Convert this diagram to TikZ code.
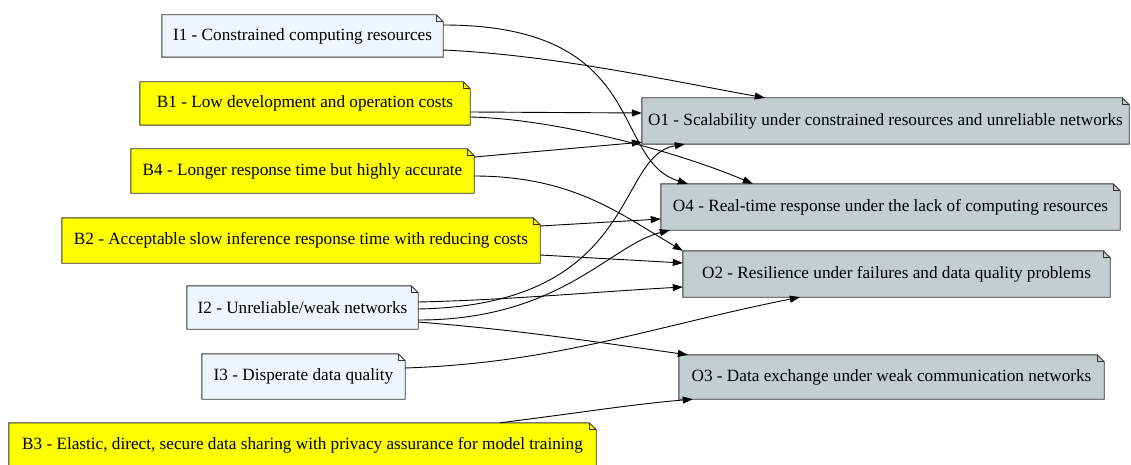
\documentclass[tikz,border=0pt]{standalone}
\usepackage{fontspec}
\setmainfont{Liberation Serif}
\usetikzlibrary{arrows.meta,calc}
\pgfdeclarelayer{background}
\pgfsetlayers{background,main}

\definecolor{inputfill}{RGB}{238,245,252}
\definecolor{benefitfill}{RGB}{255,255,0}
\definecolor{outcomefill}{RGB}{196,206,206}
\definecolor{framegray}{RGB}{50,50,50}

\tikzset{
  notebox/.style={draw=none, inner sep=0pt, align=center,
    font=\fontsize{17.2}{20}\selectfont},
  frame/.style={draw=framegray, line width=0.9pt, line join=miter},
  link/.style={draw=black, line width=0.9pt,
    -{Triangle[length=10pt,width=7pt]}}
}

% outline of a note with a folded top-right corner, drawn behind the text
\newcommand{\foldframe}[2]{%
  \begin{pgfonlayer}{background}
    \draw[frame, fill=#2] (#1.north west) -- ($(#1.north east)+(-7,0)$)
      -- ($(#1.north east)+(0,7)$) -- (#1.south east) -- (#1.south west) -- cycle;
    \draw[frame] ($(#1.north east)+(-7,0)$) -- ($(#1.north east)+(-7,7)$)
      -- ($(#1.north east)+(0,7)$);
  \end{pgfonlayer}}

\begin{document}
\begin{tikzpicture}[x=1pt,y=-1pt]
\useasboundingbox (0,0) rectangle (1131,465);

% issues and benefits (left column)
\node[notebox, minimum width=281pt, minimum height=42pt] (I1) at (302.5,36) {I1 - Constrained computing resources};
\foldframe{I1}{inputfill}
\node[notebox, minimum width=330pt, minimum height=43pt] (B1) at (305,103.5) {B1 - Low development and operation costs};
\foldframe{B1}{benefitfill}
\node[notebox, minimum width=343pt, minimum height=44pt] (B4) at (302.5,171) {B4 - Longer response time but highly accurate};
\foldframe{B4}{benefitfill}
\node[notebox, minimum width=478pt, minimum height=45pt] (B2) at (301,240.5) {B2 - Acceptable slow inference response time with reducing costs};
\foldframe{B2}{benefitfill}
\node[notebox, minimum width=231pt, minimum height=43pt] (I2) at (302.5,307.5) {I2 - Unreliable/weak networks};
\foldframe{I2}{inputfill}
\node[notebox, minimum width=203pt, minimum height=45pt] (I3) at (303.5,376.5) {I3 - Disperate data quality};
\foldframe{I3}{inputfill}
\node[notebox, minimum width=587pt, minimum height=44pt] (B3) at (302.5,445) {B3 - Elastic, direct, secure data sharing with privacy assurance for model training};
\foldframe{B3}{benefitfill}

% objectives (right column)
\node[notebox, minimum width=487pt, minimum height=46pt] (O1) at (885.5,121) {O1 - Scalability under constrained resources and unreliable networks};
\foldframe{O1}{outcomefill}
\node[notebox, minimum width=459pt, minimum height=46pt] (O4) at (890.5,207) {O4 - Real-time response under the lack of computing resources};
\foldframe{O4}{outcomefill}
\node[notebox, minimum width=427pt, minimum height=46pt] (O2) at (896.5,274) {O2 - Resilience under failures and data quality problems};
\foldframe{O2}{outcomefill}
\node[notebox, minimum width=425pt, minimum height=44pt] (O3) at (891.5,377) {O3 - Data exchange under weak communication networks};
\foldframe{O3}{outcomefill}

% connectors
\draw[link] ($(I1.east)+(0,14)$) .. controls +(110,5) and +(-100,-18) .. ($(O1.north west)+(123,0)$);
\draw[link] ($(I1.east)+(0,-11)$) .. controls +(207,0) and +(-78,-24) .. ($(O4.north west)+(27,0)$);
\draw[link] ($(B1.east)+(0,8.5)$) -- ($(O1.west)+(0,-8)$);
\draw[link] ($(B1.east)+(0,13.5)$) .. controls +(90,2) and +(-70,-30) .. ($(O4.north west)+(92,0)$);
\draw[link] ($(B4.east)+(0,-14)$) -- ($(O1.south west)+(0,-2)$);
\draw[link] ($(B4.east)+(0,5)$) .. controls +(100,0) and +(-60,-35) .. (O2.north west);
\draw[link] ($(B2.east)+(0,-14.5)$) -- ($(O4.west)+(0,12)$);
\draw[link] ($(B2.east)+(0,14.5)$) -- ($(O2.west)+(0,-11)$);
\draw[link] ($(I2.east)+(0,-5.5)$) .. controls +(90,-2) and +(-90,5) .. ($(O2.west)+(0,13)$);
\draw[link] ($(I2.east)+(0,1.5)$) .. controls +(222,-4) and +(-70,11) .. ($(O1.south west)+(43,0)$);
\draw[link] ($(I2.east)+(0,12.5)$) .. controls +(142,0) and +(-60,15) .. ($(O4.south west)+(9,0)$);
\draw[link] ($(I2.east)+(0,14.5)$) .. controls +(100,8) and +(-100,-14) .. ($(O3.north west)+(9,0)$);
\draw[link] ($(I3.east)+(0,-8.5)$) .. controls +(150,-5) and +(-150,30) .. ($(O2.south west)+(117,0)$);
\draw[link] ($(B3.north west)+(491,0)$) .. controls +(80,-10) and +(-60,5) .. ($(O3.south west)+(14,0)$);
\end{tikzpicture}
\end{document}
